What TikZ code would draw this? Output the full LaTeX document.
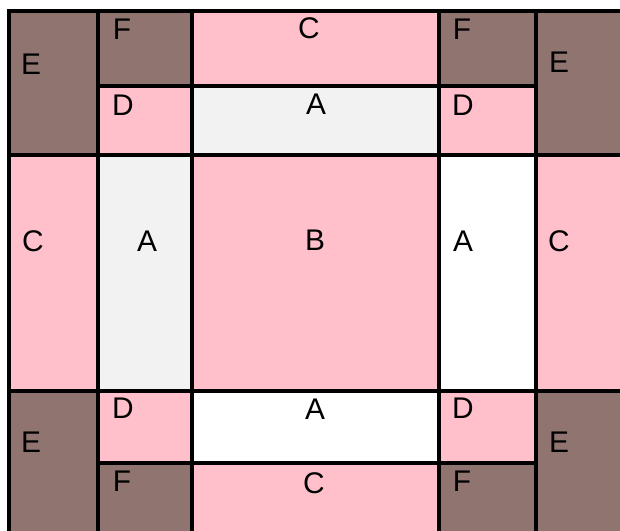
\documentclass[tikz,border=0pt]{standalone}
\usepackage{fontspec}
\setmainfont{Liberation Sans}
\usepackage{xcolor}
\usetikzlibrary{positioning}
\definecolor{QuiltPink}{HTML}{FFC0CB}
\definecolor{QuiltBrown}{HTML}{8F7470}
\definecolor{QuiltGray}{HTML}{F2F2F2}

\begin{document}
\begin{tikzpicture}[x=0.02cm,y=-0.02cm,
    patch/.style={draw=black,line width=1.9pt},
    tag/.style={inner sep=0pt,font=\fontsize{17}{20}\selectfont}]
  \useasboundingbox (0,0) rectangle (620,531);
  % top band
  \draw[patch,fill=QuiltBrown] (9,11) rectangle (98,155);
  \draw[patch,fill=QuiltBrown] (98,11) rectangle (192,86);
  \draw[patch,fill=QuiltPink] (192,11) rectangle (439,86);
  \draw[patch,fill=QuiltBrown] (439,11) rectangle (536,86);
  \draw[patch,fill=QuiltBrown] (536,11) rectangle (625,155);
  \draw[patch,fill=QuiltPink] (98,86) rectangle (192,155);
  \draw[patch,fill=QuiltGray] (192,86) rectangle (439,155);
  \draw[patch,fill=QuiltPink] (439,86) rectangle (536,155);
  % middle band
  \draw[patch,fill=QuiltPink] (9,155) rectangle (98,391);
  \draw[patch,fill=QuiltGray] (98,155) rectangle (192,391);
  \draw[patch,fill=QuiltPink] (192,155) rectangle (439,391);
  \draw[patch,fill=white] (439,155) rectangle (536,391);
  \draw[patch,fill=QuiltPink] (536,155) rectangle (625,391);
  % bottom band
  \draw[patch,fill=QuiltBrown] (9,391) rectangle (98,538);
  \draw[patch,fill=QuiltPink] (98,391) rectangle (192,463);
  \draw[patch,fill=white] (192,391) rectangle (439,463);
  \draw[patch,fill=QuiltPink] (439,391) rectangle (536,463);
  \draw[patch,fill=QuiltBrown] (536,391) rectangle (625,538);
  \draw[patch,fill=QuiltBrown] (98,463) rectangle (192,538);
  \draw[patch,fill=QuiltPink] (192,463) rectangle (439,538);
  \draw[patch,fill=QuiltBrown] (439,463) rectangle (536,538);
  % labels
  \node[tag] (eTL) at (31,64) {E};
  \node[tag] (fTL) at (122,29) {F};
  \node[tag] (cT) at (309,28) {C};
  \node[tag] (fTR) at (462,29) {F};
  \node[tag] (eTR) at (559,62) {E};
  \node[tag] (dTL) at (123,105) {D};
  \node[tag] (aT) at (316,104) {A};
  \node[tag] (dTR) at (463,105) {D};
  \node[tag] (cL) at (33,241) {C};
  \node[tag] (aL) at (147,241) {A};
  \node[tag] (bM) at (315,240) {B};
  \node[tag] (aR) at (463,241) {A};
  \node[tag] (cR) at (559,241) {C};
  \node[tag] (eBL) at (31,442) {E};
  \node[tag] (dBL) at (123,408) {D};
  \node[tag] (aB) at (315,409) {A};
  \node[tag] (dBR) at (463,408) {D};
  \node[tag] (eBR) at (559,442) {E};
  \node[tag] (fBL) at (122,481) {F};
  \node[tag] (cB) at (314,483) {C};
  \node[tag] (fBR) at (462,481) {F};
\end{tikzpicture}
\end{document}
